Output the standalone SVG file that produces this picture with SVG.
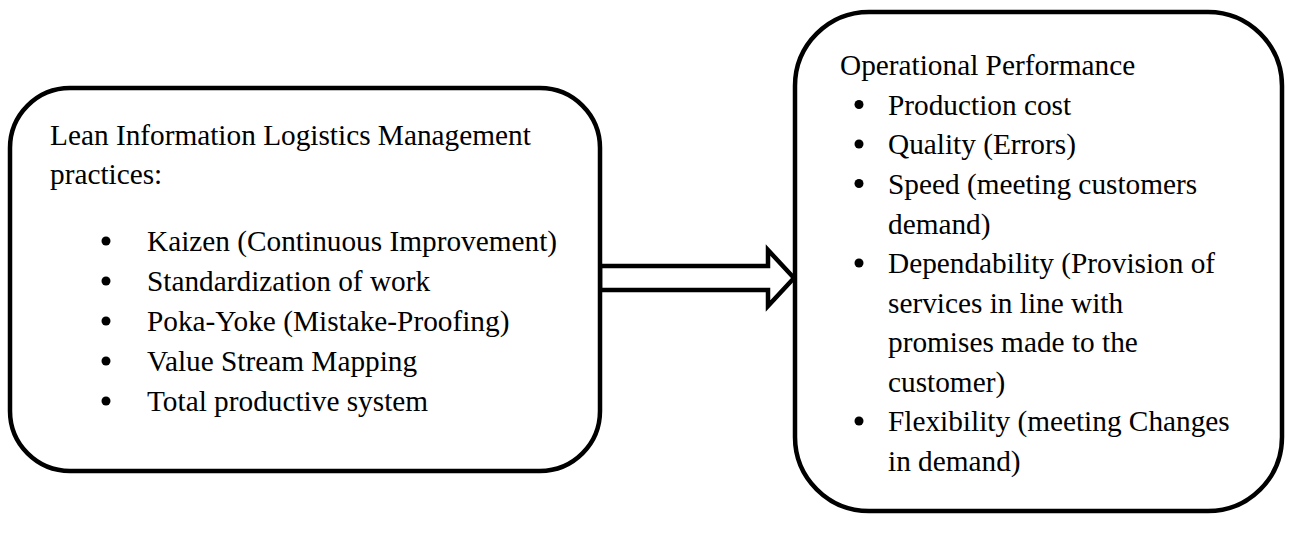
<svg xmlns="http://www.w3.org/2000/svg" width="1292" height="548" viewBox="0 0 1292 548">
  <style>
    .box { fill: #ffffff; stroke: #000000; stroke-width: 4.5; }
    .arrow { fill: #ffffff; stroke: #000000; stroke-width: 4.5; stroke-linejoin: miter; }
    .t { font-family: "Liberation Serif", "Times New Roman", serif; font-size: 29.3px; fill: #000000; }
    .dot { fill: #000000; }
  </style>
  <rect width="1292" height="548" fill="#ffffff"/>

  <!-- block arrow linking the two boxes -->
  <g id="connectors">
    <polygon class="arrow" points="600,266 768,266 768,250 794,278 768,306 768,290 600,290"/>
  </g>

  <g id="lean-practices">
    <rect class="box" x="10" y="88" width="590" height="383" rx="60" ry="60"/>
    <text class="t" x="50" y="145">Lean Information Logistics Management</text>
    <text class="t" x="50" y="184">practices:</text>
    <circle class="dot" cx="106" cy="241" r="4.5"/><text class="t" x="147" y="251">Kaizen (Continuous Improvement)</text>
    <circle class="dot" cx="106" cy="281" r="4.5"/><text class="t" x="147" y="291">Standardization of work</text>
    <circle class="dot" cx="106" cy="321" r="4.5"/><text class="t" x="147" y="331">Poka-Yoke (Mistake-Proofing)</text>
    <circle class="dot" cx="106" cy="361" r="4.5"/><text class="t" x="147" y="371">Value Stream Mapping</text>
    <circle class="dot" cx="106" cy="401" r="4.5"/><text class="t" x="147" y="411">Total productive system</text>
  </g>

  <g id="operational-performance">
    <rect class="box" x="795" y="12" width="487" height="499" rx="74" ry="74"/>
    <text class="t" x="840" y="75">Operational Performance</text>
    <circle class="dot" cx="859" cy="104.5" r="4.5"/><text class="t" x="888" y="114.5">Production cost</text>
    <circle class="dot" cx="859" cy="144" r="4.5"/><text class="t" x="888" y="154">Quality (Errors)</text>
    <circle class="dot" cx="859" cy="183.5" r="4.5"/><text class="t" x="888" y="193.5">Speed (meeting customers</text>
    <text class="t" x="888" y="233.5">demand)</text>
    <circle class="dot" cx="859" cy="263" r="4.5"/><text class="t" x="888" y="273">Dependability (Provision of</text>
    <text class="t" x="888" y="312.5">services in line with</text>
    <text class="t" x="888" y="352">promises made to the</text>
    <text class="t" x="888" y="391.5">customer)</text>
    <circle class="dot" cx="859" cy="421" r="4.5"/><text class="t" x="888" y="431">Flexibility (meeting Changes</text>
    <text class="t" x="888" y="470.5">in demand)</text>
  </g>
</svg>
